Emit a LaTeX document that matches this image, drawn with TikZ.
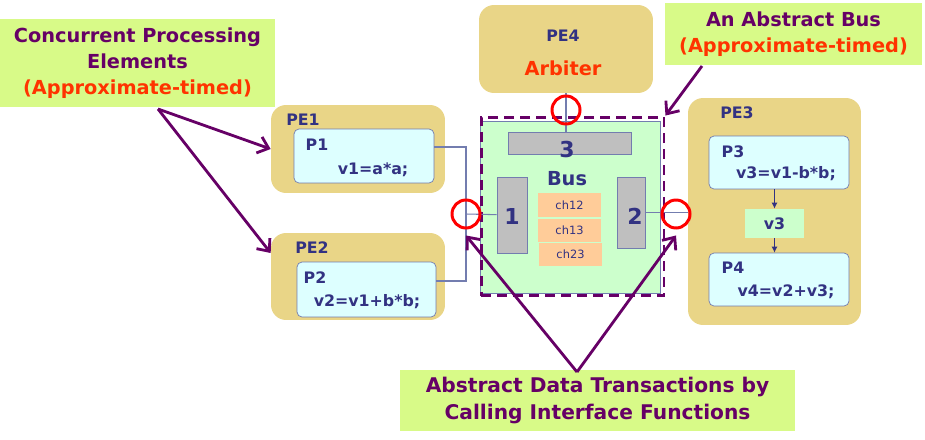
\documentclass[tikz,border=0pt]{standalone}
\usepackage{fontspec}
\setmainfont{DejaVu Sans}
\usetikzlibrary{arrows.meta}
\definecolor{ink}{RGB}{50,50,130}
\definecolor{plum}{RGB}{102,0,102}
\definecolor{flame}{RGB}{255,51,0}
\definecolor{lime}{RGB}{216,250,136}
\definecolor{gold}{RGB}{233,213,135}
\definecolor{ice}{RGB}{221,255,255}
\definecolor{mint}{RGB}{204,255,204}
\definecolor{peach}{RGB}{255,204,153}
\definecolor{slate}{RGB}{115,125,175}
\definecolor{ringred}{RGB}{255,0,0}
\begin{document}
\begin{tikzpicture}[x=0.02cm,y=-0.02cm,
  note/.style={fill=lime, inner sep=0pt, align=center, text=plum, font=\fontsize{11}{14.8}\selectfont\bfseries},
  pe/.style={fill=gold, rounded corners=0.3cm, inner sep=0pt, minimum width=3.48cm},
  proc/.style={draw=slate, fill=ice, rounded corners=0.1cm, inner sep=0pt, minimum width=2.8cm},
  tag/.style={inner sep=0pt, text=ink, font=\fontsize{9}{11}\selectfont\bfseries},
  bar/.style={draw=slate, fill=black!25, inner sep=0pt},
  num/.style={inner sep=0pt, text=ink, font=\fontsize{12.5}{14}\selectfont\bfseries},
  chan/.style={fill=peach, inner sep=0pt, minimum width=1.26cm, minimum height=0.47cm, text=ink, font=\fontsize{6.5}{8}\selectfont},
  link/.style={draw=slate, line width=0.6pt},
  ring/.style={circle, draw=ringred, line width=1.7pt, minimum size=0.56cm, inner sep=0pt},
  callout/.style={draw=plum, line width=1.6pt, -{Straight Barb[length=0.2cm, width=0.34cm]}}]
\useasboundingbox (0,0) rectangle (925,439);
% labels
\node[note, minimum width=5.5cm, minimum height=1.76cm] (lab1) at (137.5,63) {Concurrent Processing\\Elements\\{\color{flame}(Approximate-timed)}};
\node[note, minimum width=5.14cm, minimum height=1.24cm] (lab2) at (793.5,34) {An Abstract Bus\\{\color{flame}(Approximate-timed)}};
\node[note, minimum width=7.9cm, minimum height=1.22cm, font=\fontsize{11.5}{15}\selectfont\bfseries] (lab3) at (597.5,400.5) {Abstract Data Transactions by\\Calling Interface Functions};
% processing elements
\node[pe, minimum height=1.76cm] (pe1) at (358,149) {};
\node[tag] (t1) at (303,120) {PE1};
\node[proc, minimum height=1.08cm] (p1) at (364,156) {};
\node[tag] (n1) at (317,145) {P1};
\node[tag] (c1) at (373,170) {v1=a*a;};
\node[pe, minimum height=1.74cm] (pe2) at (358,276.5) {};
\node[tag] (t2) at (312,248) {PE2};
\node[proc, minimum width=2.78cm, minimum height=1.1cm] (p2) at (366.5,289.5) {};
\node[tag] (n2) at (315,278) {P2};
\node[tag] (c2) at (367,302) {v2=v1+b*b;};
\node[pe, minimum height=1.76cm] (pe4) at (566,49) {};
\node[tag] (t4) at (563,36) {PE4};
\node[tag, text=flame, font=\fontsize{11}{13}\selectfont\bfseries] (arb) at (563,68) {Arbiter};
\node[pe, minimum width=3.46cm, minimum height=4.54cm] (pe3) at (774.5,211.5) {};
\node[tag] (t3) at (737,113) {PE3};
\node[proc, minimum height=1.06cm] (p3) at (779,162.5) {};
\node[tag] (n3) at (733,152) {P3};
\node[tag] (c3) at (786,174) {v3=v1-b*b;};
\node[fill=mint, inner sep=0pt, minimum width=1.18cm, minimum height=0.58cm, text=ink, font=\fontsize{9}{11}\selectfont\bfseries] (v3) at (774.5,223.5) {v3};
\node[proc, minimum height=1.06cm] (p4) at (779,279.5) {};
\node[tag] (n4) at (733,268) {P4};
\node[tag] (c4) at (786,292) {v4=v2+v3;};
% bus
\node[draw=slate, fill=mint, minimum width=3.6cm, minimum height=3.44cm] (bus) at (570,207) {};
\node[bar, minimum width=2.46cm, minimum height=0.44cm] (b3) at (569.5,143) {};
\node[bar, minimum width=0.6cm, minimum height=1.52cm] (b1) at (512,215) {};
\node[bar, minimum width=0.56cm, minimum height=1.42cm] (b2) at (631,212.5) {};
\node[num] (k3) at (567,150) {3};
\node[num] (k1) at (512,216) {1};
\node[num] (k2) at (635,216) {2};
\node[num, font=\fontsize{11}{13}\selectfont\bfseries] (bt) at (567,179) {Bus};
\node[chan] (ch12) at (569.5,205) {ch12};
\node[chan] (ch13) at (569.5,230.5) {ch13};
\node[chan] (ch23) at (570.5,254.5) {ch23};
\node[draw=plum, line width=1.7pt, dash pattern=on 0.2cm off 0.12cm, minimum width=3.66cm, minimum height=3.58cm] (hull) at (572.5,206.5) {};
% links
\coordinate (jl) at (466,214);
\draw[link] ([yshift=0.18cm]p1.east) -| (jl) |- ([yshift=0.17cm]p2.east);
\draw[link] (jl) -- (b1);
\draw[link] (b2.east) -- (b2.east -| pe3.west);
\draw[link] (pe4.south) -- (pe4.south |- b3.north);
\draw[link, draw=ink, -{Latex[length=0.12cm, width=0.12cm]}] (v3 |- p3.south) -- (v3.north);
\draw[link, draw=ink, -{Latex[length=0.12cm, width=0.12cm]}] (v3.south) -- (v3 |- p4.north);
\node[ring] (cl) at (466,214) {};
\node[ring] (cr) at (676,214) {};
\node[ring] (ct) at (566,110) {};
% callouts
\coordinate (fork1) at (158,109);
\coordinate (fork2) at (702,66);
\coordinate (apex) at (577,372);
\draw[callout] (fork1) -- (pe1.west);
\draw[callout] (fork1) -- ([yshift=0.47cm]pe2.west);
\draw[callout] (fork2) -- (hull.north east);
\draw[callout] (apex) -- ([yshift=-0.12cm]cl.south);
\draw[callout] (apex) -- ([yshift=-0.12cm]cr.south);
\end{tikzpicture}
\end{document}
